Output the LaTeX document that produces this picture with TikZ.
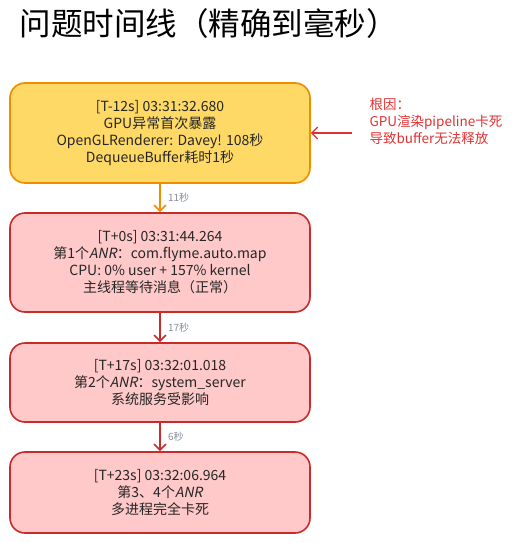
\documentclass[tikz,border=0pt]{standalone}
\usepackage{fontspec}
\setmainfont{Noto Sans CJK SC}
\newfontfamily\slantfont[FakeSlant=0.2]{Noto Sans CJK SC}
\usetikzlibrary{arrows.meta}
\definecolor{stepfill}{HTML}{FFD966}
\definecolor{stepline}{HTML}{F08C00}
\definecolor{anrfill}{HTML}{FFC9C9}
\definecolor{anrline}{HTML}{C92A2A}
\definecolor{causered}{HTML}{E03131}
\definecolor{gaptext}{HTML}{868E96}
\newcommand{\anr}{{\slantfont ANR}}
\begin{document}
\begin{tikzpicture}[x=1pt,y=-1pt,
	event/.style={draw, line width=1.6pt, rounded corners=15pt, minimum width=300pt,
		align=center, font=\fontsize{14}{17}\selectfont, text=black!85},
	gap/.style={font=\fontsize{10}{11}\selectfont, text=gaptext, right, xshift=4pt},
	flow/.style={line width=1.6pt, -{Straight Barb[length=6pt,width=12pt]}}]
	\useasboundingbox (0,0) rectangle (513,543);
	% Title
	\node[anchor=west, font=\fontsize{31.5}{34}\selectfont] (title) at (16,24)
	{问题时间线（精确到毫秒）};
	% Timeline events
	\node[event, fill=stepfill, draw=stepline, minimum height=100pt] (gpu) at (160,133)
	{[T-12s] 03:31:32.680\\GPU异常首次暴露\\OpenGLRenderer: Davey! 108秒\\DequeueBuffer耗时1秒};
	\node[event, fill=anrfill, draw=anrline, minimum height=99pt] (anr1) at (160,262.5)
	{[T+0s] 03:31:44.264\\第1个\anr：com.flyme.auto.map\\CPU: 0\% user + 157\% kernel\\主线程等待消息（正常）};
	\node[event, fill=anrfill, draw=anrline, minimum height=79pt] (anr2) at (160,382.5)
	{[T+17s] 03:32:01.018\\第2个\anr：system\_server\\系统服务受影响};
	\node[event, fill=anrfill, draw=anrline, minimum height=81pt] (anr3) at (160,492.5)
	{[T+23s] 03:32:06.964\\第3、4个\anr\\多进程完全卡死};
	% Gaps between events
	\draw[flow, stepline] (gpu.south) -- (anr1.north) node[gap, midway] {11秒};
	\draw[flow, anrline] (anr1.south) -- (anr2.north) node[gap, midway] {17秒};
	\draw[flow, anrline] (anr2.south) -- (anr3.north) node[gap, midway] {6秒};
	% Root cause note
	\node[anchor=north west, align=left, text=causered, font=\fontsize{13.5}{17}\selectfont] (cause) at (366,95)
	{根因：\\GPU渲染pipeline卡死\\导致buffer无法释放};
	\coordinate (causetail) at (352,133);
	\draw[flow, causered, line width=1.2pt] (causetail) -- (gpu.east);
\end{tikzpicture}
\end{document}
